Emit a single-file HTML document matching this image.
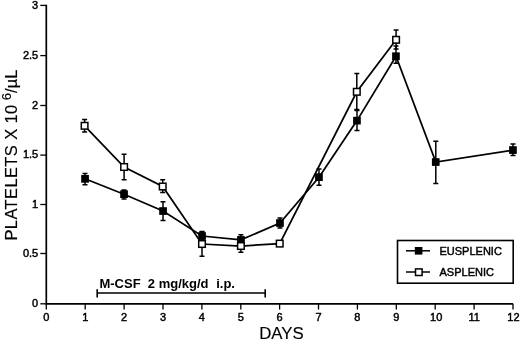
<!DOCTYPE html>
<html><head><meta charset="utf-8"><style>
html,body{margin:0;padding:0;background:#fff;}
svg{display:block;filter:grayscale(1);}
text{font-family:"Liberation Sans",sans-serif;fill:#000;stroke:#000;stroke-width:0.45px;}
.t{font-size:11px;}
.b{font-size:13px;font-weight:bold;stroke:none;}
.days{font-size:16.8px;stroke-width:0.15px;}
.yt{font-size:16.5px;stroke-width:0.15px;}
</style></head><body>
<svg width="520" height="340" viewBox="0 0 520 340">
<path d="M46.3 4.8 V303.8 H513.0" fill="none" stroke="#000" stroke-width="1.7"/>
<line x1="40.3" y1="303.8" x2="46.3" y2="303.8" stroke="#000" stroke-width="1.3"/>
<line x1="40.3" y1="253.5" x2="46.3" y2="253.5" stroke="#000" stroke-width="1.3"/>
<line x1="40.3" y1="204.5" x2="46.3" y2="204.5" stroke="#000" stroke-width="1.3"/>
<line x1="40.3" y1="155.1" x2="46.3" y2="155.1" stroke="#000" stroke-width="1.3"/>
<line x1="40.3" y1="105.5" x2="46.3" y2="105.5" stroke="#000" stroke-width="1.3"/>
<line x1="40.3" y1="55.6" x2="46.3" y2="55.6" stroke="#000" stroke-width="1.3"/>
<line x1="40.3" y1="5.4" x2="46.3" y2="5.4" stroke="#000" stroke-width="1.3"/>
<line x1="46.3" y1="303.8" x2="46.3" y2="309.6" stroke="#000" stroke-width="1.3"/>
<line x1="85.2" y1="303.8" x2="85.2" y2="309.6" stroke="#000" stroke-width="1.3"/>
<line x1="124.1" y1="303.8" x2="124.1" y2="309.6" stroke="#000" stroke-width="1.3"/>
<line x1="163.0" y1="303.8" x2="163.0" y2="309.6" stroke="#000" stroke-width="1.3"/>
<line x1="201.9" y1="303.8" x2="201.9" y2="309.6" stroke="#000" stroke-width="1.3"/>
<line x1="240.8" y1="303.8" x2="240.8" y2="309.6" stroke="#000" stroke-width="1.3"/>
<line x1="279.6" y1="303.8" x2="279.6" y2="309.6" stroke="#000" stroke-width="1.3"/>
<line x1="318.5" y1="303.8" x2="318.5" y2="309.6" stroke="#000" stroke-width="1.3"/>
<line x1="357.4" y1="303.8" x2="357.4" y2="309.6" stroke="#000" stroke-width="1.3"/>
<line x1="396.3" y1="303.8" x2="396.3" y2="309.6" stroke="#000" stroke-width="1.3"/>
<line x1="435.2" y1="303.8" x2="435.2" y2="309.6" stroke="#000" stroke-width="1.3"/>
<line x1="474.1" y1="303.8" x2="474.1" y2="309.6" stroke="#000" stroke-width="1.3"/>
<line x1="513.0" y1="303.8" x2="513.0" y2="309.6" stroke="#000" stroke-width="1.3"/>
<polyline points="84.6,125.8 124.1,167.0 162.7,186.5 202.0,244.0 240.9,246.0 279.7,243.6 356.8,91.8 396.1,39.8" fill="none" stroke="#000" stroke-width="1.75"/>
<polyline points="85.0,178.8 124.0,194.2 163.0,211.0 202.0,236.0 240.9,239.9 280.0,223.0 319.0,177.2 357.0,120.6 396.0,56.2 435.8,162.0 513.0,150.1" fill="none" stroke="#000" stroke-width="1.75"/>
<path d="M84.6 119.6 V132.1 M82.1 119.6 H87.1 M82.1 132.1 H87.1" stroke="#000" stroke-width="1.5" fill="none"/>
<path d="M124.1 154.2 V179.8 M121.6 154.2 H126.6 M121.6 179.8 H126.6" stroke="#000" stroke-width="1.5" fill="none"/>
<path d="M162.7 179.7 V192.6 M160.2 179.7 H165.2 M160.2 192.6 H165.2" stroke="#000" stroke-width="1.5" fill="none"/>
<path d="M202.0 232.0 V256.2 M199.5 232.0 H204.5 M199.5 256.2 H204.5" stroke="#000" stroke-width="1.5" fill="none"/>
<path d="M240.9 240.0 V252.3 M238.4 240.0 H243.4 M238.4 252.3 H243.4" stroke="#000" stroke-width="1.5" fill="none"/>
<path d="M356.8 73.6 V109.4 M354.3 73.6 H359.3 M354.3 109.4 H359.3" stroke="#000" stroke-width="1.5" fill="none"/>
<path d="M396.1 30.0 V49.0 M393.6 30.0 H398.6 M393.6 49.0 H398.6" stroke="#000" stroke-width="1.5" fill="none"/>
<path d="M85.0 173.5 V184.7 M82.5 173.5 H87.5 M82.5 184.7 H87.5" stroke="#000" stroke-width="1.5" fill="none"/>
<path d="M124.0 189.9 V198.9 M121.5 189.9 H126.5 M121.5 198.9 H126.5" stroke="#000" stroke-width="1.5" fill="none"/>
<path d="M163.0 201.8 V220.6 M160.5 201.8 H165.5 M160.5 220.6 H165.5" stroke="#000" stroke-width="1.5" fill="none"/>
<path d="M202.0 231.5 V240.5 M199.5 231.5 H204.5 M199.5 240.5 H204.5" stroke="#000" stroke-width="1.5" fill="none"/>
<path d="M240.9 234.8 V242.0 M238.4 234.8 H243.4 M238.4 242.0 H243.4" stroke="#000" stroke-width="1.5" fill="none"/>
<path d="M280.0 218.0 V228.0 M277.5 218.0 H282.5 M277.5 228.0 H282.5" stroke="#000" stroke-width="1.5" fill="none"/>
<path d="M319.0 169.1 V185.3 M316.5 169.1 H321.5 M316.5 185.3 H321.5" stroke="#000" stroke-width="1.5" fill="none"/>
<path d="M357.0 110.4 V130.6 M354.5 110.4 H359.5 M354.5 130.6 H359.5" stroke="#000" stroke-width="1.5" fill="none"/>
<path d="M396.0 46.0 V63.2 M393.5 46.0 H398.5 M393.5 63.2 H398.5" stroke="#000" stroke-width="1.5" fill="none"/>
<path d="M435.8 141.2 V183.5 M433.3 141.2 H438.3 M433.3 183.5 H438.3" stroke="#000" stroke-width="1.5" fill="none"/>
<path d="M513.0 144.0 V155.6 M510.5 144.0 H515.5 M510.5 155.6 H515.5" stroke="#000" stroke-width="1.5" fill="none"/>
<rect x="81.2" y="175.0" width="7.7" height="7.7" fill="#000"/>
<rect x="120.2" y="190.3" width="7.7" height="7.7" fill="#000"/>
<rect x="159.2" y="207.2" width="7.7" height="7.7" fill="#000"/>
<rect x="198.2" y="232.2" width="7.7" height="7.7" fill="#000"/>
<rect x="237.1" y="236.1" width="7.7" height="7.7" fill="#000"/>
<rect x="276.1" y="219.2" width="7.7" height="7.7" fill="#000"/>
<rect x="315.1" y="173.3" width="7.7" height="7.7" fill="#000"/>
<rect x="353.1" y="116.8" width="7.7" height="7.7" fill="#000"/>
<rect x="392.1" y="52.4" width="7.7" height="7.7" fill="#000"/>
<rect x="431.9" y="158.2" width="7.7" height="7.7" fill="#000"/>
<rect x="509.1" y="146.2" width="7.7" height="7.7" fill="#000"/>
<rect x="81.3" y="122.5" width="6.6" height="6.6" fill="#fff" stroke="#000" stroke-width="1.5"/>
<rect x="120.8" y="163.7" width="6.6" height="6.6" fill="#fff" stroke="#000" stroke-width="1.5"/>
<rect x="159.4" y="183.2" width="6.6" height="6.6" fill="#fff" stroke="#000" stroke-width="1.5"/>
<rect x="198.7" y="240.7" width="6.6" height="6.6" fill="#fff" stroke="#000" stroke-width="1.5"/>
<rect x="237.6" y="242.7" width="6.6" height="6.6" fill="#fff" stroke="#000" stroke-width="1.5"/>
<rect x="276.4" y="240.3" width="6.6" height="6.6" fill="#fff" stroke="#000" stroke-width="1.5"/>
<rect x="353.5" y="88.5" width="6.6" height="6.6" fill="#fff" stroke="#000" stroke-width="1.5"/>
<rect x="392.8" y="36.5" width="6.6" height="6.6" fill="#fff" stroke="#000" stroke-width="1.5"/>
<path d="M97.2 293.0 H265.2 M97.2 289.2 V297.4 M265.2 289.2 V297.4" stroke="#000" stroke-width="1.6" fill="none"/>
<rect x="397.5" y="240.5" width="115.7" height="42.7" fill="none" stroke="#000" stroke-width="1.6"/>
<line x1="406" y1="250.8" x2="430" y2="250.8" stroke="#000" stroke-width="1.5"/>
<rect x="414.8" y="247.0" width="7.6" height="7.6" fill="#000"/>
<line x1="406" y1="272" x2="430" y2="272" stroke="#000" stroke-width="1.5"/>
<rect x="415.5" y="268.9" width="6.6" height="6.6" fill="#fff" stroke="#000" stroke-width="1.5"/>
<text x="38.2" y="307.0" text-anchor="end" class="t">0</text>
<text x="38.2" y="256.7" text-anchor="end" class="t">0.5</text>
<text x="38.2" y="207.7" text-anchor="end" class="t">1</text>
<text x="38.2" y="158.3" text-anchor="end" class="t">1.5</text>
<text x="38.2" y="108.7" text-anchor="end" class="t">2</text>
<text x="38.2" y="58.8" text-anchor="end" class="t">2.5</text>
<text x="38.2" y="8.6" text-anchor="end" class="t">3</text>
<text x="46.3" y="320.8" text-anchor="middle" class="t">0</text>
<text x="85.2" y="320.8" text-anchor="middle" class="t">1</text>
<text x="124.1" y="320.8" text-anchor="middle" class="t">2</text>
<text x="163.0" y="320.8" text-anchor="middle" class="t">3</text>
<text x="201.9" y="320.8" text-anchor="middle" class="t">4</text>
<text x="240.8" y="320.8" text-anchor="middle" class="t">5</text>
<text x="279.6" y="320.8" text-anchor="middle" class="t">6</text>
<text x="318.5" y="320.8" text-anchor="middle" class="t">7</text>
<text x="357.4" y="320.8" text-anchor="middle" class="t">8</text>
<text x="396.3" y="320.8" text-anchor="middle" class="t">9</text>
<text x="436.2" y="320.8" text-anchor="middle" class="t">10</text>
<text x="474.1" y="320.8" text-anchor="middle" class="t">11</text>
<text x="513.4" y="320.8" text-anchor="middle" class="t">12</text>
<text x="281.45" y="338.7" text-anchor="middle" class="days">DAYS</text>
<text x="99.43" y="288.3" class="b">M-CSF</text>
<text x="147.84" y="288.3" class="b">2 mg/kg/d</text>
<text x="216.19" y="288.3" class="b">i.p.</text>
<text x="439.5" y="255" class="t">EUSPLENIC</text>
<text x="439.5" y="276.2" class="t">ASPLENIC</text>
<text transform="translate(17.0 0) rotate(-90)" class="yt" x="-240.55" y="0" letter-spacing="0.38">PLATELETS X 10</text>
<text transform="translate(17.0 0) rotate(-90)" class="yt" x="-92.9" y="0">/µL</text>
<text transform="translate(17.0 0) rotate(-90)" style="font-size:13px;stroke-width:0.15px" x="-100.26" y="-6.5">6</text>
</svg>
</body></html>
